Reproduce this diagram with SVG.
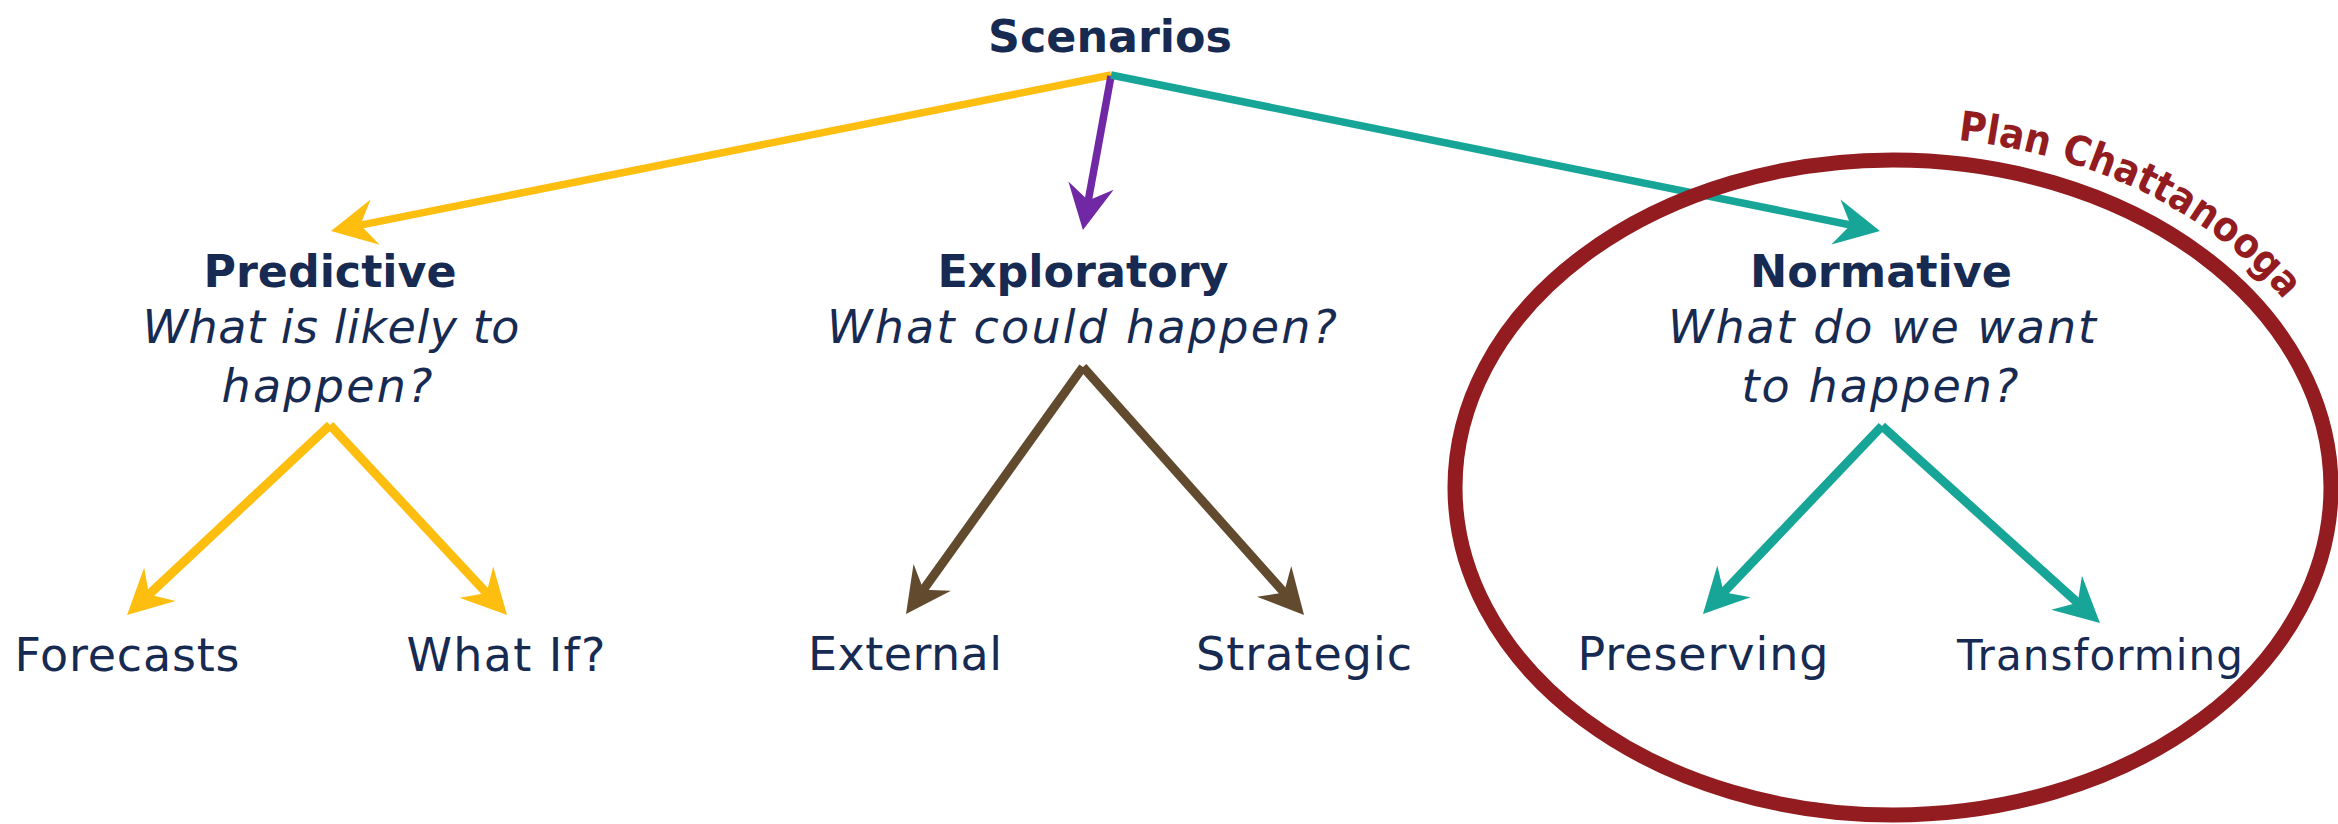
<svg xmlns="http://www.w3.org/2000/svg" width="2338" height="824" viewBox="0 0 2338 824">
  <style>
    .t { font-family: "DejaVu Sans", "Liberation Sans", sans-serif; fill: #172A52; text-anchor: middle; }
    .b { font-weight: bold; font-size: 44px; }
    .i { font-style: italic; font-size: 46px; }
    .r { font-size: 46px; }
    .line { fill: none; stroke-linecap: butt; }
    .top { stroke-width: 7.5; }
    .low { stroke-width: 9; }
    .yel { stroke: #FDBE10; }
    .pur { stroke: #7028A4; }
    .tea { stroke: #17A598; }
    .brn { stroke: #614A2E; }
    .plan { font-family: "DejaVu Sans", "Liberation Sans", sans-serif; font-weight: bold; font-size: 41px; fill: #921C1F; }
  </style>
  <defs>
    <marker id="ah-yel" viewBox="-25 -25 55 50" refX="0" refY="0" markerWidth="55" markerHeight="50" markerUnits="userSpaceOnUse" orient="auto">
      <path d="M25,0 L-20,-23 L-5,0 L-20,23 Z" fill="#FDBE10"/>
    </marker>
    <marker id="ah-pur" viewBox="-25 -25 55 50" refX="0" refY="0" markerWidth="55" markerHeight="50" markerUnits="userSpaceOnUse" orient="auto">
      <path d="M25,0 L-20,-23 L-5,0 L-20,23 Z" fill="#7028A4"/>
    </marker>
    <marker id="ah-tea" viewBox="-25 -25 55 50" refX="0" refY="0" markerWidth="55" markerHeight="50" markerUnits="userSpaceOnUse" orient="auto">
      <path d="M25,0 L-20,-23 L-5,0 L-20,23 Z" fill="#17A598"/>
    </marker>
    <marker id="ah-brn" viewBox="-25 -25 55 50" refX="0" refY="0" markerWidth="55" markerHeight="50" markerUnits="userSpaceOnUse" orient="auto">
      <path d="M25,0 L-20,-23 L-5,0 L-20,23 Z" fill="#614A2E"/>
    </marker>
    <path id="planArc" d="M1958,140 A462,351 0 0 1 2327,609"/>
  </defs>

  <rect width="2338" height="824" fill="#FFFFFF"/>

  <g id="connectors">
    <line class="line top yel" x1="1111" y1="75" x2="355.5" y2="226.1" marker-end="url(#ah-yel)"/>
    <line class="line top pur" x1="1111" y1="76" x2="1087.4" y2="205.4" marker-end="url(#ah-pur)"/>
    <line class="line top tea" x1="1111" y1="75" x2="1855.5" y2="226" marker-end="url(#ah-tea)"/>

    <line class="line low yel" x1="330" y1="425" x2="145.3" y2="597.9" marker-end="url(#ah-yel)"/>
    <line class="line low yel" x1="330" y1="425" x2="490" y2="596.7" marker-end="url(#ah-yel)"/>

    <line class="line low brn" x1="1083" y1="367" x2="920.6" y2="593.7" marker-end="url(#ah-brn)"/>
    <line class="line low brn" x1="1083" y1="367" x2="1287.4" y2="596.3" marker-end="url(#ah-brn)"/>

    <line class="line low tea" x1="1882" y1="426" x2="1720.2" y2="595.9" marker-end="url(#ah-tea)"/>
    <line class="line low tea" x1="1882" y1="426" x2="2081.4" y2="606.2" marker-end="url(#ah-tea)"/>
  </g>

  <g id="plan-chattanooga">
    <ellipse cx="1893" cy="487.5" rx="438" ry="327.5" fill="none" stroke="#921C1F" stroke-width="15"/>
    <text class="plan" textLength="372" lengthAdjust="spacingAndGlyphs"><textPath href="#planArc">Plan Chattanooga</textPath></text>
  </g>

  <g id="scenarios">
    <text class="t b" x="1110" y="52" textLength="244" lengthAdjust="spacingAndGlyphs">Scenarios</text>
  </g>

  <g id="predictive">
    <text class="t b" x="330" y="287" textLength="253" lengthAdjust="spacingAndGlyphs">Predictive</text>
    <text class="t i" x="331" y="343" textLength="377" lengthAdjust="spacing">What is likely to</text>
    <text class="t i" x="327" y="402" textLength="211" lengthAdjust="spacing">happen?</text>
  </g>

  <g id="exploratory">
    <text class="t b" x="1083" y="287" textLength="291" lengthAdjust="spacingAndGlyphs">Exploratory</text>
    <text class="t i" x="1082" y="343" textLength="510" lengthAdjust="spacing">What could happen?</text>
  </g>

  <g id="normative">
    <text class="t b" x="1881" y="287" textLength="262" lengthAdjust="spacingAndGlyphs">Normative</text>
    <text class="t i" x="1882" y="343" textLength="428" lengthAdjust="spacing">What do we want</text>
    <text class="t i" x="1880" y="402" textLength="277" lengthAdjust="spacing">to happen?</text>
  </g>

  <g id="forecasts">
    <text class="t r" x="127" y="671" textLength="225" lengthAdjust="spacing">Forecasts</text>
  </g>
  <g id="what-if">
    <text class="t r" x="506" y="671" textLength="199" lengthAdjust="spacing">What If?</text>
  </g>
  <g id="external">
    <text class="t r" x="905" y="670" textLength="194" lengthAdjust="spacing">External</text>
  </g>
  <g id="strategic">
    <text class="t r" x="1304" y="670" textLength="216" lengthAdjust="spacing">Strategic</text>
  </g>
  <g id="preserving">
    <text class="t r" x="1703" y="670" textLength="251" lengthAdjust="spacing">Preserving</text>
  </g>
  <g id="transforming">
    <text class="t" x="2100" y="670" font-size="42" textLength="286" lengthAdjust="spacing">Transforming</text>
  </g>
</svg>
